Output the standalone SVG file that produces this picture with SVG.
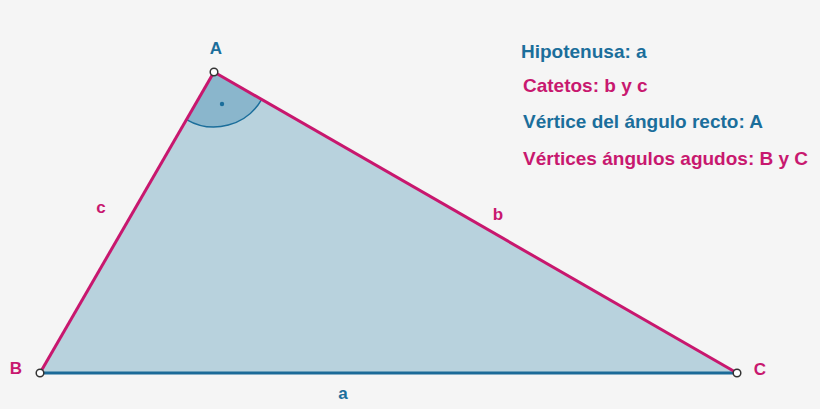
<svg xmlns="http://www.w3.org/2000/svg" width="820" height="409" viewBox="0 0 820 409">
<style>
text{font-family:"Liberation Sans",Arial,sans-serif;font-weight:bold;}
.blue{fill:#1b6e9b;}
.pink{fill:#c8186f;}
.lbl{font-size:17px;}
.leg{font-size:19px;}
.pt{fill:#ffffff;stroke:#333333;stroke-width:1.5;}
</style>
<rect width="820" height="409" fill="#f5f5f5"/>
<g id="triangle">
<polygon points="214,72 40,373 737,373" fill="#b8d2dd"/>
<path d="M214,72 L186.5,119.6 A55,55 0 0 0 261.7,99.4 Z" fill="#8ab6cc"/>
<path d="M186.5,119.6 A55,55 0 0 0 261.7,99.4" fill="none" stroke="#1b6e9b" stroke-width="1.5"/>
<circle cx="222" cy="104" r="2.2" fill="#1b6e9b"/>
</g>
<g id="connectors">
<line id="side-a" x1="40" y1="373" x2="737" y2="373" stroke="#1b6a98" stroke-width="3"/>
<line id="side-b" x1="214" y1="72" x2="737" y2="373" stroke="#c8176e" stroke-width="3"/>
<line id="side-c" x1="214" y1="72" x2="40" y2="373" stroke="#c8176e" stroke-width="3"/>
</g>
<g id="node-A">
<circle class="pt" cx="214" cy="72" r="3.8"/>
<text class="lbl blue" x="216" y="54" text-anchor="middle">A</text>
</g>
<g id="node-B">
<circle class="pt" cx="40" cy="373" r="3.8"/>
<text class="lbl pink" x="16" y="374" text-anchor="middle">B</text>
</g>
<g id="node-C">
<circle class="pt" cx="737" cy="373" r="3.8"/>
<text class="lbl pink" x="760" y="375" text-anchor="middle">C</text>
</g>
<g id="side-labels">
<text class="lbl pink" x="101" y="213" text-anchor="middle">c</text>
<text class="lbl pink" x="498" y="220" text-anchor="middle">b</text>
<text class="lbl blue" x="343" y="399" text-anchor="middle">a</text>
</g>
<g id="legend">
<text class="leg blue" x="521" y="58">Hipotenusa: a</text>
<text class="leg pink" x="523" y="92">Catetos: b y c</text>
<text class="leg blue" x="523" y="128">Vértice del ángulo recto: A</text>
<text class="leg pink" x="523" y="165">Vértices ángulos agudos: B y C</text>
</g>
</svg>
